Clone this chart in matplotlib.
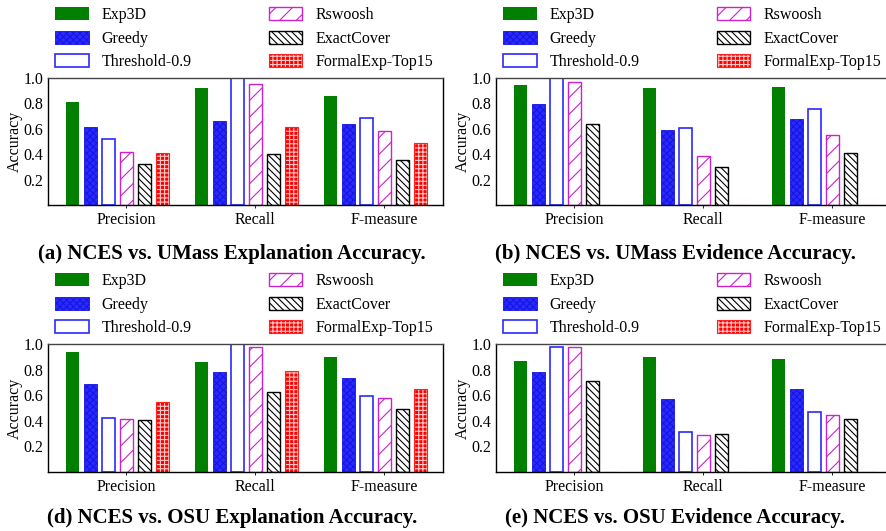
import numpy as np
import matplotlib.pyplot as plt

plt.rcParams['font.family'] = ['Liberation Serif', 'DejaVu Serif']
plt.rcParams['hatch.linewidth'] = 0.8

metrics = ['Precision', 'Recall', 'F-measure']
methods = ['Exp3D', 'Greedy', 'Threshold-0.9', 'Rswoosh', 'ExactCover', 'FormalExp-Top15']

# accuracy per method, order: precision, recall, f-measure
umass_expl = {
    'Exp3D': [0.81, 0.92, 0.86],
    'Greedy': [0.616, 0.658, 0.637],
    'Threshold-0.9': [0.518, 1.0, 0.684],
    'Rswoosh': [0.416, 0.95, 0.579],
    'ExactCover': [0.324, 0.40, 0.353],
    'FormalExp-Top15': [0.408, 0.616, 0.492],
}
umass_evid = {
    'Exp3D': [0.947, 0.918, 0.932],
    'Greedy': [0.792, 0.589, 0.679],
    'Threshold-0.9': [1.0, 0.603, 0.753],
    'Rswoosh': [0.968, 0.387, 0.55],
    'ExactCover': [0.639, 0.30, 0.408],
    'FormalExp-Top15': [0.0, 0.0, 0.0],
}
osu_expl = {
    'Exp3D': [0.935, 0.862, 0.898],
    'Greedy': [0.689, 0.781, 0.731],
    'Threshold-0.9': [0.42, 1.0, 0.59],
    'Rswoosh': [0.413, 0.977, 0.582],
    'ExactCover': [0.41, 0.624, 0.491],
    'FormalExp-Top15': [0.548, 0.786, 0.645],
}
osu_evid = {
    'Exp3D': [0.864, 0.898, 0.879],
    'Greedy': [0.782, 0.567, 0.651],
    'Threshold-0.9': [0.979, 0.31, 0.47],
    'Rswoosh': [0.976, 0.289, 0.444],
    'ExactCover': [0.709, 0.297, 0.415],
    'FormalExp-Top15': [0.0, 0.0, 0.0],
}

captions = ['(a) NCES vs. UMass Explanation Accuracy.',
            '(b) NCES vs. UMass Evidence Accuracy.',
            '(d) NCES vs. OSU Explanation Accuracy.',
            '(e) NCES vs. OSU Evidence Accuracy.']

styles = {
    'Exp3D': dict(facecolor='#007f00', edgecolor='#007f00', linewidth=0),
    'Greedy': dict(facecolor='#2a2aff', edgecolor='#1616e0', hatch='xxxxx', linewidth=0.6),
    'Threshold-0.9': dict(facecolor='white', edgecolor='#2a2aff', linewidth=1.2),
    'Rswoosh': dict(facecolor='white', edgecolor='#cc22cc', hatch='//', linewidth=1.0),
    'ExactCover': dict(facecolor='white', edgecolor='black', hatch='\\\\\\\\\\', linewidth=1.0),
}

W, H = 886, 531
fig = plt.figure(figsize=(W / 100, H / 100), dpi=100)

# axes boxes in pixels: left, top, width, height
boxes = [(48, 78, 395, 127), (496, 78, 395, 127),
         (48, 344, 395, 128), (496, 344, 395, 128)]
legend_top = [7, 7, 273, 273]
cap_pos = [(232, 254), (675, 254), (232, 518), (675, 518)]
datasets = [umass_expl, umass_evid, osu_expl, osu_evid]

x = np.arange(len(metrics))
step = 0.14
width = 0.097

for k, (data, box) in enumerate(zip(datasets, boxes)):
    l, t, w, h = box
    ax = fig.add_axes([l / W, (H - t - h) / H, w / W, h / H])
    handles = []
    for i, m in enumerate(methods):
        pos = x + (i - 3) * step
        if m == 'FormalExp-Top15':
            hb = ax.bar(pos, data[m], width, facecolor='#ff0000', edgecolor='#ffc8c8',
                        hatch='++++', linewidth=0)
            ob = ax.bar(pos, data[m], width, fill=False, edgecolor='#ff2020', linewidth=0.8)
            handles.append((hb.patches[0], ob.patches[0]))
        else:
            b = ax.bar(pos, data[m], width, **styles[m])
            handles.append(b.patches[0])
    ax.set_xlim(-0.608, 2.454)
    ax.set_ylim(0, 1.0)
    ax.set_yticks([0.2, 0.4, 0.6, 0.8, 1.0])
    ax.set_yticklabels(['0.2', '0.4', '0.6', '0.8', '1.0'])
    ax.set_xticks(x)
    ax.set_xticklabels(metrics)
    ax.tick_params(axis='y', length=0, pad=3.5, labelsize=11.5)
    ax.tick_params(axis='x', length=2, width=0.6, pad=3, labelsize=11.5)
    ax.set_ylabel('Accuracy', fontsize=11.5, labelpad=0)
    for s in ax.spines.values():
        s.set_linewidth(1.0)
    ax.spines['top'].set_color('#444444')
    ax.legend(handles, methods, ncol=2, frameon=False, fontsize=11.5,
              loc='upper left', bbox_to_anchor=((l + 7) / W, 1 - legend_top[k] / H),
              bbox_transform=fig.transFigure, borderaxespad=0, borderpad=0,
              handlelength=2.1, handleheight=0.85, handletextpad=0.8,
              columnspacing=4.85, labelspacing=0.48)
    cx, cy = cap_pos[k]
    fig.text(cx / W, 1 - cy / H, captions[k], ha='center', va='center',
             fontsize=15, fontweight='bold')

fig.savefig('out.png', dpi=100)
